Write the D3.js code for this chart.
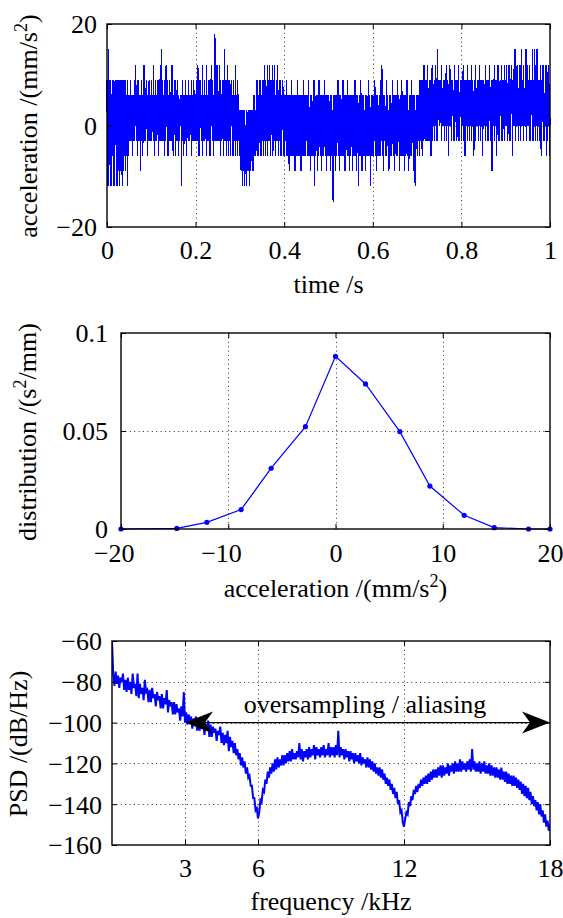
<!DOCTYPE html>
<html><head><meta charset="utf-8">
<script src="https://cdn.jsdelivr.net/npm/d3@7"></script>
<style>body{margin:0;background:#fff}</style>
</head><body>
<script>
// ================= DATA =================
// Panel 1: acceleration time signal (mm/s^2), samples evenly spaced over 0..1 s
const timeRange = [0, 1];
const accelSignal = [
9,-12,6,-9,15,-12,9,-6,6,-12,9,-9,6,-12,9,-6,3,-12,9,-9,6,-12,9,-3,6,-9,9,-12,6,-6,9,-9,3,-12,9,-6,6,-9,9,-3,6,-12,9,-6,3,-9,9,-6,6,-3,9,-9,6,-6,3,-12,9,-3,6,-6,
6,-3,6,0,9,-3,6,0,6,-6,3,-3,6,0,9,-3,6,0,12,-3,6,0,6,-6,9,-3,6,0,6,-3,3,-9,6,0,9,-3,6,-6,6,0,12,-3,6,0,6,-3,9,0,6,-6,3,-3,6,0,9,-3,6,-3,6,0,
9,-3,6,0,6,-3,12,0,6,-6,6,-3,9,0,6,-3,6,0,9,-6,6,-3,6,0,12,-3,6,0,15,-3,9,0,6,-3,6,-6,9,0,6,-3,12,0,6,-3,9,-6,6,0,6,-3,9,0,6,-3,6,0,12,-3,6,-6,
6,-3,6,0,9,-6,6,-3,6,0,9,-3,6,-6,6,0,3,-3,6,0,6,-3,-12,6,-3,9,0,6,-6,6,-3,6,0,9,-3,6,-6,6,0,6,-3,9,0,6,-3,6,0,6,-6,9,-3,6,0,6,-3,9,0,6,-3,6,
6,-3,9,0,6,-3,12,0,6,-6,6,-3,9,0,6,-3,6,0,12,-6,6,-3,6,0,9,-3,6,0,6,-6,12,-3,6,0,6,-3,9,0,6,-6,6,-3,12,0,6,-3,9,0,6,-6,6,-3,18,0,9,-3,6,0,12,-3,
9,-3,6,0,12,-3,6,-6,9,0,6,-3,6,0,9,-6,6,-3,15,0,6,-3,9,-6,6,0,12,-3,6,-6,9,0,6,-3,6,-6,9,0,6,-3,6,-6,9,0,6,-3,6,-6,12,0,6,-3,6,-6,9,0,6,-3,3,-6,
3,-6,0,-9,3,-6,0,-12,3,-9,0,-6,3,-12,-3,-9,0,-12,3,-9,0,-6,3,-9,0,-12,3,-6,0,-9,3,-6,0,-9,3,-6,6,-9,3,-6,6,-3,3,-6,6,-3,9,-6,6,-3,6,-6,9,-3,6,0,9,-6,6,-3,
6,-3,9,-6,6,0,12,-3,6,-6,9,-3,6,0,12,-6,6,-3,9,0,12,-3,6,-6,9,0,6,-3,12,-6,6,-3,9,0,12,-3,6,-6,9,-3,6,0,12,-3,6,-6,9,-3,6,0,9,-6,6,-3,6,0,9,-6,6,-3,
6,-6,3,-3,6,-6,9,-3,3,-6,6,-3,3,-9,6,-3,6,-6,3,-3,9,-6,6,-3,3,-6,6,-3,3,-9,6,-3,6,-6,3,-3,9,-6,6,-3,3,-6,6,-3,6,-9,3,-3,6,-6,3,-3,9,-6,6,-3,3,-6,6,-3,
6,-3,3,-6,6,-3,9,-6,3,-3,6,-9,3,-3,6,-6,3,-3,6,-6,9,-12,6,-3,3,-6,6,-3,3,-9,6,-3,6,-6,9,-3,3,-6,6,-3,3,-9,6,-6,3,-3,6,-6,9,-3,6,-6,3,-3,6,-9,3,-6,6,-3,
6,-6,3,-3,6,-9,3,-6,6,-3,3,-6,-15,6,-3,3,-6,6,-9,3,-3,6,-6,3,-3,9,-6,3,-3,6,-9,3,-6,6,-3,3,-6,6,-3,9,-6,3,-3,6,-9,3,-6,6,-3,3,-6,9,-3,3,-6,6,-9,3,-3,6,
-6,3,-3,6,-9,3,-6,6,-3,3,-6,9,-3,3,-6,6,-9,3,-3,6,-12,3,-6,6,-3,3,-6,9,-3,3,-9,6,-3,3,-6,6,-3,3,-6,6,-9,3,-3,6,-6,3,-3,9,-6,3,-3,6,-6,3,-12,6,-3,3,-6,6,
-3,3,-6,6,-3,9,-6,3,-3,6,-9,3,-6,6,-3,3,-6,6,-3,3,-6,9,-3,6,12,-6,3,-3,6,-9,3,-3,6,-6,3,-3,9,-6,3,-3,6,-6,3,-9,6,-3,3,-6,6,-3,3,-6,9,-3,6,-6,3,-3,6,-9,
3,-3,6,-6,3,-3,9,-6,3,-3,6,-9,3,-6,6,-3,3,-6,9,-3,6,-6,3,-3,6,-9,3,-3,6,-6,3,-3,9,-6,6,-3,3,-9,6,-3,3,-6,6,-3,9,-6,3,-3,6,-6,3,-9,6,-3,-12,3,-6,6,-3,3,
6,-6,3,-3,6,-6,9,-3,6,0,9,-3,6,-6,9,0,6,-3,12,0,6,-3,9,0,6,-3,9,0,12,-3,6,0,9,-3,6,0,9,-6,6,0,12,-3,9,0,6,3,9,-3,6,0,12,0,9,-3,15,0,6,3,9,0,
9,0,6,3,9,-3,12,0,6,3,9,0,6,-3,9,3,6,0,12,-3,6,0,9,3,6,-6,9,0,12,3,6,0,9,-3,6,3,9,0,6,-3,12,0,9,3,6,0,9,-3,6,3,9,0,12,-3,6,0,9,3,6,-3,
9,0,6,3,12,-3,9,0,6,-6,9,3,6,0,9,-3,12,0,6,3,9,-3,6,0,9,3,12,-3,6,0,9,3,6,-6,9,0,6,-3,12,0,6,3,9,0,6,-3,9,0,12,3,6,-3,9,0,6,3,9,-6,6,0,
9,3,6,0,12,-3,9,0,6,3,9,-3,6,0,9,3,12,0,6,-3,9,0,-9,6,9,3,6,0,12,-3,9,0,6,3,9,-6,6,0,12,3,9,-3,6,0,9,3,6,0,12,-3,9,0,6,3,9,-3,12,0,6,3,
9,0,12,3,6,-3,9,0,12,3,9,-3,6,0,12,3,9,-6,6,0,9,3,12,0,15,-3,9,0,6,3,12,0,9,-3,6,3,9,0,12,-3,9,0,15,3,6,0,9,-3,12,0,6,3,9,0,15,-3,9,0,12,3,
9,0,6,3,12,-3,9,0,6,3,9,0,15,-3,9,3,6,0,15,-3,9,0,6,3,15,-3,12,0,9,3,6,-3,9,0,12,-6,9,0,6,3,12,-3,9,0,6,-3,9,3,12,-6,9,0,6,-3,12,0,9,-6,6,0
];
const timeTicks = [0, 0.2, 0.4, 0.6, 0.8, 1];
const accelTicks = [-20, 0, 20];

// Panel 2: distribution of acceleration
const distAccel = [-20, -14.8, -12, -8.8, -6, -2.8, 0, 2.8, 6, 8.8, 12, 14.8, 18, 20];
const distValue = [0, 0.0003, 0.0034, 0.0099, 0.031, 0.0522, 0.0881, 0.074, 0.0497, 0.0219, 0.007, 0.0007, 0, 0];
const distXTicks = [-20, -10, 0, 10, 20];
const distYTicks = [0, 0.05, 0.1];

// Panel 3: power spectral density (dB/Hz), bins every psdStepKHz from 0 kHz
const psdStepKHz = 0.05;
const psdValues = [
-60,
-76,-82,-75,-81,-77,-83,-78,-80,-76,-84,
-79,-85,-78,-84,-80,-86,-76,-83,-81,-87,
-76,-88,-81,-86,-83,-89,-79,-85,-84,-90,
-84,-90,-83,-88,-86,-92,-85,-89,-87,-93,
-86,-93,-88,-91,-84,-95,-89,-92,-90,-96,
-90,-96,-91,-95,-93,-99,-92,-97,-85,-100,
-95,-101,-96,-99,-97,-103,-98,-100,-97,-104,
-98,-104,-99,-102,-100,-106,-101,-103,-99,-107,
-101,-107,-102,-105,-103,-109,-104,-106,-102,-110,
-105,-111,-106,-110,-104,-114,-107,-112,-109,-115,
-110,-116,-113,-118,-115,-121,-117,-122,-119,-125,
-122,-127,-126,-131,-131,-137,-137,-143,-142,-147,
-144,-138,-139,-133,-134,-128,-130,-124,-127,-122,
-125,-120,-124,-118,-123,-117,-122,-118,-121,-116,
-121,-116,-120,-115,-119,-114,-119,-113,-118,-115,
-118,-114,-117,-110,-118,-113,-119,-114,-117,-113,
-118,-112,-117,-113,-116,-111,-118,-112,-116,-113,
-117,-112,-116,-111,-117,-113,-116,-110,-117,-112,
-116,-112,-117,-111,-116,-104,-117,-112,-116,-113,
-118,-113,-117,-114,-119,-114,-118,-115,-120,-115,
-119,-116,-120,-115,-121,-117,-120,-118,-122,-117,
-122,-118,-123,-119,-124,-120,-125,-122,-126,-122,
-127,-123,-128,-125,-130,-127,-131,-128,-133,-130,
-135,-132,-137,-134,-140,-138,-144,-143,-149,-151,
-147,-144,-145,-139,-141,-136,-138,-133,-135,-131,
-134,-130,-132,-128,-131,-127,-130,-126,-130,-125,
-129,-124,-128,-123,-127,-123,-127,-122,-126,-121,
-127,-121,-126,-122,-125,-120,-126,-121,-124,-120,
-125,-119,-124,-120,-124,-118,-124,-119,-123,-120,
-124,-119,-123,-118,-124,-113,-123,-119,-124,-120,
-124,-119,-125,-120,-124,-119,-125,-121,-125,-120,
-126,-121,-126,-122,-127,-122,-127,-123,-128,-122,
-128,-124,-129,-124,-130,-125,-130,-126,-131,-126,
-131,-127,-132,-128,-133,-129,-135,-130,-136,-131,
-137,-132,-138,-134,-140,-136,-141,-138,-143,-139,
-145,-140,-146,-143,-149,-145,-151,-148,-153,-150
];
const freqTicks = [3, 6, 12, 18];
const freqGrid = [3, 6, 12];
const psdTicks = [-160, -140, -120, -100, -80, -60];
const aliasBandKHz = [3, 18];
const aliasLevel = -100;
const aliasLabel = "oversampling / aliasing";

// ================= LAYOUT / STYLE =================
const W = 563, H = 918;
const FONT = "'Liberation Serif','Times New Roman',Times,serif";
const FS = 26;
const BLUE = "#0000ff";
const P1 = {l: 107, r: 550, t: 24, b: 227};
const P2 = {l: 121, r: 550, t: 333, b: 529};
const P3 = {l: 112, r: 550, t: 641, b: 845};

const svg = d3.select("body").append("svg")
  .attr("width", W).attr("height", H)
  .attr("font-family", FONT).attr("font-size", FS);
svg.append("rect").attr("width", W).attr("height", H).attr("fill", "#fff");

const minus = s => s.replace(/^-/, "\u2212");

function grid(x, y, P, xv, yv) {
  const g = svg.append("g").attr("stroke", "#333").attr("stroke-width", 1).attr("stroke-dasharray", "1,3.4");
  g.selectAll(null).data(xv).join("line")
    .attr("x1", d => Math.round(x(d)) + 0.5).attr("x2", d => Math.round(x(d)) + 0.5)
    .attr("y1", P.t).attr("y2", P.b);
  g.selectAll(null).data(yv).join("line")
    .attr("y1", d => Math.round(y(d)) + 0.5).attr("y2", d => Math.round(y(d)) + 0.5)
    .attr("x1", P.l).attr("x2", P.r);
}

function frame(x, y, P, xt, yt, xfmt, yfmt, xBase, yRight) {
  const g = svg.append("g");
  const bx = g.append("g").attr("transform", `translate(0,${P.b})`)
    .call(d3.axisBottom(x).tickValues(xt).tickSizeInner(-5).tickSizeOuter(0).tickFormat(d => minus(xfmt(d))));
  bx.select(".domain").remove();
  bx.attr("font-family", FONT).attr("font-size", FS);
  bx.selectAll("text").attr("y", xBase - P.b).attr("dy", null).attr("fill", "#000")
    .attr("dx", d => d < 0 ? -7.3 : 0);
  const tx = g.append("g").attr("transform", `translate(0,${P.t})`)
    .call(d3.axisTop(x).tickValues(xt).tickSizeInner(-5).tickSizeOuter(0).tickFormat(""));
  tx.select(".domain").remove();
  tx.selectAll("text").remove();
  const ly = g.append("g").attr("transform", `translate(${P.l},0)`)
    .call(d3.axisLeft(y).tickValues(yt).tickSizeInner(-5).tickSizeOuter(0).tickFormat(d => minus(yfmt(d))));
  ly.select(".domain").remove();
  ly.attr("font-family", FONT).attr("font-size", FS);
  ly.selectAll("text").attr("x", yRight - P.l).attr("dy", "0.34em").attr("fill", "#000");
  const ry = g.append("g").attr("transform", `translate(${P.r},0)`)
    .call(d3.axisRight(y).tickValues(yt).tickSizeInner(-5).tickSizeOuter(0).tickFormat(""));
  ry.select(".domain").remove();
  ry.selectAll("text").remove();
  g.selectAll(".tick line").attr("stroke", "#000").attr("stroke-width", 1);
  g.append("rect").attr("x", P.l).attr("y", P.t).attr("width", P.r - P.l).attr("height", P.b - P.t)
    .attr("fill", "none").attr("stroke", "#000").attr("stroke-width", 1.4);
}

// parts: strings, or {sup: "2"} for a superscript
function addParts(t, parts) {
  let raised = false;
  parts.forEach(p => {
    if (typeof p === "object") {
      t.append("tspan").attr("dy", -10).attr("font-size", FS * 0.7).text(p.sup);
      raised = true;
    } else {
      const s = t.append("tspan").text(p);
      if (raised) { s.attr("dy", 10); raised = false; }
    }
  });
}
function hLabel(x, y, parts) {
  const t = svg.append("text").attr("x", x).attr("y", y).attr("text-anchor", "middle").attr("fill", "#000");
  addParts(t, parts);
}
function vLabel(x, y, parts) {
  const t = svg.append("text").attr("transform", `translate(${x},${y}) rotate(-90)`)
    .attr("text-anchor", "middle").attr("fill", "#000");
  addParts(t, parts);
}

// ================= PANEL 1 =================
{
  const x = d3.scaleLinear().domain(timeRange).range([P1.l, P1.r]);
  const y = d3.scaleLinear().domain([-20, 20]).range([P1.b, P1.t]);
  grid(x, y, P1, timeTicks.slice(1, -1), [0]);
  const n = accelSignal.length;
  const tOf = i => timeRange[0] + (timeRange[1] - timeRange[0]) * i / (n - 1);
  svg.append("path").datum(accelSignal)
    .attr("d", d3.line().x((d, i) => x(tOf(i))).y(d => y(d)))
    .attr("fill", "none").attr("stroke", BLUE).attr("stroke-width", 1.2)
    .attr("shape-rendering", "crispEdges");
  frame(x, y, P1, timeTicks, accelTicks, d3.format("~g"), d3.format("~g"), 259, 97);
  hLabel((P1.l + P1.r) / 2, 293, ["time /s"]);
  vLabel(37, 126, ["acceleration /(mm/s", {sup: "2"}, ")"]);
}

// ================= PANEL 2 =================
{
  const x = d3.scaleLinear().domain([-20, 20]).range([P2.l, P2.r]);
  const y = d3.scaleLinear().domain([0, 0.1]).range([P2.b, P2.t]);
  grid(x, y, P2, distXTicks.slice(1, -1), [0.05]);
  const pts = distAccel.map((a, i) => [a, distValue[i]]);
  svg.append("path").datum(pts)
    .attr("d", d3.line().x(d => x(d[0])).y(d => y(d[1])))
    .attr("fill", "none").attr("stroke", BLUE).attr("stroke-width", 1.2);
  svg.append("g").selectAll("circle").data(pts).join("circle")
    .attr("cx", d => x(d[0])).attr("cy", d => y(d[1])).attr("r", 2.6).attr("fill", BLUE);
  frame(x, y, P2, distXTicks, distYTicks, d3.format("~g"), d3.format("~g"), 562, 108);
  hLabel((P2.l + P2.r) / 2, 597, ["acceleration /(mm/s", {sup: "2"}, ")"]);
  vLabel(36, 432, ["distribution /(s", {sup: "2"}, "/mm)"]);
}

// ================= PANEL 3 =================
{
  const x = d3.scaleLinear().domain([0, 18]).range([P3.l, P3.r]);
  const y = d3.scaleLinear().domain([-160, -60]).range([P3.b, P3.t]);
  grid(x, y, P3, freqGrid, psdTicks.slice(1, -1));
  svg.append("clipPath").attr("id", "c3").append("rect")
    .attr("x", P3.l).attr("y", P3.t).attr("width", P3.r - P3.l).attr("height", P3.b - P3.t);
  svg.append("path").datum(psdValues).attr("clip-path", "url(#c3)")
    .attr("d", d3.line().x((d, i) => x(i * psdStepKHz)).y(d => y(d)))
    .attr("fill", "none").attr("stroke", BLUE).attr("stroke-width", 2);

  // double arrow
  const ax0 = x(aliasBandKHz[0]), ax1 = x(aliasBandKHz[1]), ay = y(aliasLevel);
  svg.append("line").attr("x1", ax0 + 10).attr("x2", ax1 - 10).attr("y1", ay).attr("y2", ay)
    .attr("stroke", "#000").attr("stroke-width", 1.2);
  const head = (tx, dir) => {
    const L = 28, Wd = 11, N = 20;
    return `M${tx},${ay} L${tx + dir * L},${ay - Wd} L${tx + dir * N},${ay} L${tx + dir * L},${ay + Wd} Z`;
  };
  svg.append("path").attr("d", head(ax0, 1)).attr("fill", "#000");
  svg.append("path").attr("d", head(ax1, -1)).attr("fill", "#000");
  svg.append("text").attr("x", x(10.4)).attr("y", y(-95.5)).attr("text-anchor", "middle")
    .attr("fill", "#000").text(aliasLabel);

  frame(x, y, P3, freqTicks, psdTicks, d3.format("~g"), d3.format("~g"), 877, 102);
  hLabel((P3.l + P3.r) / 2, 910, ["frequency /kHz"]);
  vLabel(27, 744, ["PSD /(dB/Hz)"]);
}
</script>
</body></html>
